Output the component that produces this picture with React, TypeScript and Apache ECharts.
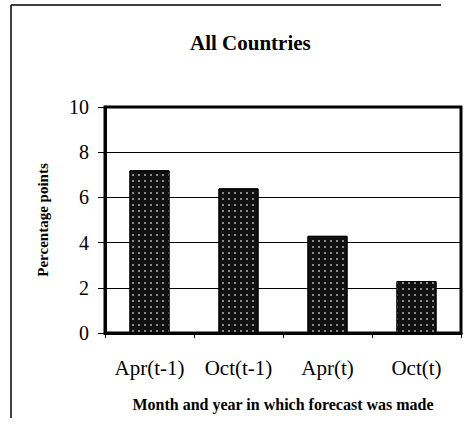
import React, { useEffect, useRef } from "react";
import * as echarts from "echarts";

const categories = ["Apr(t-1)", "Oct(t-1)", "Apr(t)", "Oct(t)"];
const values = [7.2, 6.4, 4.3, 2.3];
const yTicks = { min: 0, max: 10, interval: 2 };
const titleText = "All Countries";
const yName = "Percentage points";
const xName = "Month and year in which forecast was made";

const FONT = "'Liberation Serif', 'Times New Roman', serif";

export default function App() {
  const ref = useRef<HTMLDivElement>(null);
  useEffect(() => {
    document.body.style.margin = "0";
    const chart = echarts.init(ref.current!, null, { renderer: "svg" });
    chart.setOption({
      animation: false,
      backgroundColor: "#ffffff",
      title: {
        text: titleText,
        left: 185,
        top: 27,
        textStyle: { fontFamily: FONT, fontWeight: "bold", fontSize: 21, color: "#000" },
      },
      grid: {
        left: 105,
        right: 10,
        top: 107,
        bottom: 107,
        show: true,
        borderColor: "#000",
        borderWidth: 3,
        backgroundColor: "transparent",
      },
      xAxis: {
        type: "category",
        data: categories,
        name: xName,
        nameLocation: "middle",
        nameGap: 63,
        nameTextStyle: { fontFamily: FONT, fontWeight: "bold", fontSize: 16, color: "#000" },
        axisLine: { show: true, lineStyle: { color: "#000", width: 3 } },
        axisTick: { show: true, alignWithLabel: false, length: 5, lineStyle: { color: "#000", width: 1 } },
        axisLabel: { interval: 0, fontFamily: FONT, fontSize: 21, color: "#000", margin: 24 },
        splitLine: { show: false },
      },
      yAxis: {
        type: "value",
        min: yTicks.min,
        max: yTicks.max,
        interval: yTicks.interval,
        name: yName,
        nameLocation: "middle",
        nameGap: 55,
        nameTextStyle: { fontFamily: FONT, fontWeight: "bold", fontSize: 15, color: "#000" },
        axisLine: { show: true, lineStyle: { color: "#000", width: 3 } },
        axisTick: { show: true, inside: false, length: 7, lineStyle: { color: "#000", width: 1 } },
        axisLabel: { fontFamily: FONT, fontSize: 20, color: "#000", margin: 16 },
        splitLine: { show: true, lineStyle: { color: "#000", width: 1 } },
      },
      series: [
        {
          type: "bar",
          data: values,
          barWidth: "45%",
          itemStyle: {
            color: "#111111",
            borderColor: "#000",
            borderWidth: 1,
            decal: {
              symbol: "rect",
              symbolSize: 1,
              color: "#8a8a8a",
              dashArrayX: [1.5, 3.5],
              dashArrayY: [1.5, 3.5],
              rotation: 0,
            },
          },
        },
      ],
      graphic: [
        { type: "line", shape: { x1: 11, y1: 5, x2: 441, y2: 5 }, style: { stroke: "#000", lineWidth: 1.5 } },
        { type: "line", shape: { x1: 11, y1: 5, x2: 11, y2: 418 }, style: { stroke: "#000", lineWidth: 1.5 } },
      ],
    });
    return () => chart.dispose();
  }, []);
  return <div ref={ref} style={{ position: "absolute", left: 0, top: 0, width: 471, height: 440 }} />;
}
